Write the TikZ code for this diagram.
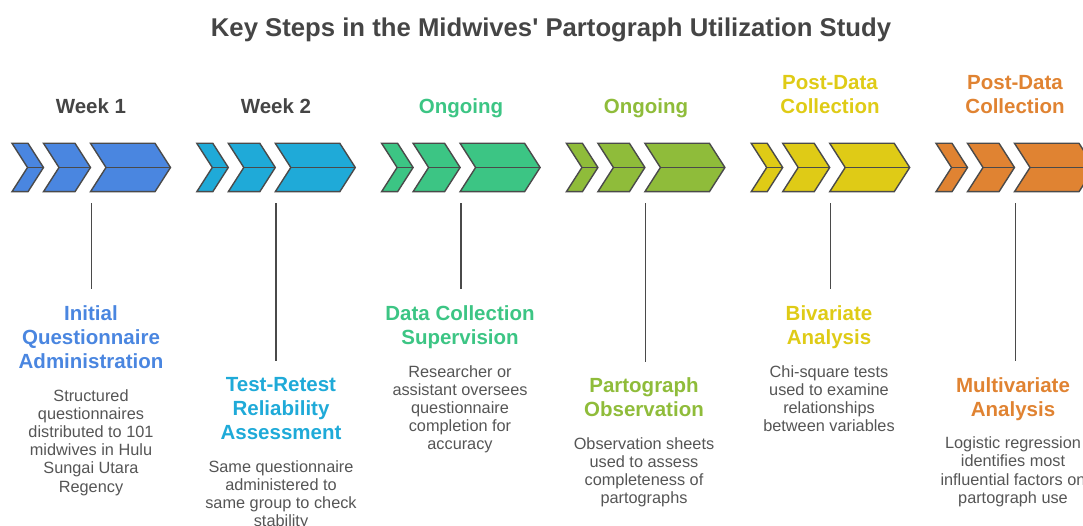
\documentclass[tikz,border=0pt]{standalone}
\usepackage{fontspec}
\setmainfont{Liberation Sans}
\usetikzlibrary{positioning}

\definecolor{ink}{HTML}{454545}
\definecolor{body}{HTML}{555555}
\definecolor{edge}{HTML}{4A4A4A}
\definecolor{stepblue}{HTML}{4A86E0}
\definecolor{stepcyan}{HTML}{1FAAD8}
\definecolor{stepgreen}{HTML}{3CC584}
\definecolor{stepolive}{HTML}{8FBC3A}
\definecolor{stepyellow}{HTML}{DFCB16}
\definecolor{steporange}{HTML}{E08332}

% one chevron: left x, width of top edge, fill
\newcommand{\stepchevron}[3]{%
  \filldraw[chev, fill=#3] (#1,143.3) -- ++(#2,0) -- ++(15.5,24.2)
    -- ++(-15.5,24.2) -- ++(-#2,0) -- ++(15.5,-24.2) -- cycle;
  \draw[chev] (#1+15.5,167.5) -- ++(#2,0);}
% three chevrons per step
\newcommand{\chevrongroup}[2]{%
  \stepchevron{#1}{16}{#2}
  \stepchevron{#1+31.5}{31.5}{#2}
  \stepchevron{#1+78.5}{64.5}{#2}}

\begin{document}
\begin{tikzpicture}[x=1pt, y=-1pt, node distance=16pt,
    chev/.style={draw=edge, line width=1.4pt, line join=miter},
    stem/.style={draw=edge, line width=1.4pt, shorten >=15.8pt},
    when/.style={font=\fontsize{20.5}{23.5}\selectfont\bfseries, align=center,
      inner sep=0pt, anchor=south, text depth=0pt},
    head/.style={font=\fontsize{20.5}{24}\selectfont\bfseries, align=center,
      inner sep=0pt, anchor=north, text depth=4.5pt},
    desc/.style={font=\fontsize{16.3}{18.2}\selectfont, text=body, align=center,
      inner sep=0pt}]
    \useasboundingbox (0,0) rectangle (1083,526);
    \clip (0,0) rectangle (1083,526);
    %
    \node [font=\fontsize{25.7}{30}\selectfont\bfseries, text=ink, anchor=base,
      inner sep=0pt] (title) at (551,36.7)
      {Key Steps in the Midwives\textquotesingle\ Partograph Utilization Study};
    %
    \node [when, text=ink] (when1) at (91,114) {Week 1};
    \node [when, text=ink] (when2) at (276,114) {Week 2};
    \node [when, text=stepgreen] (when3) at (461,114) {Ongoing};
    \node [when, text=stepolive] (when4) at (646,114) {Ongoing};
    \node [when, text=stepyellow] (when5) at (830,113.3) {Post-Data\\Collection};
    \node [when, text=steporange] (when6) at (1015,113.3) {Post-Data\\Collection};
    %
    \chevrongroup{12}{stepblue}
    \chevrongroup{196.8}{stepcyan}
    \chevrongroup{381.6}{stepgreen}
    \chevrongroup{566.4}{stepolive}
    \chevrongroup{751.2}{stepyellow}
    \chevrongroup{936}{steporange}
    %
    \node [head, text=stepblue] (head1) at (91,305.3)
      {Initial\\Questionnaire\\Administration};
    \node [head, text=stepcyan] (head2) at (281,377)
      {Test-Retest\\Reliability\\Assessment};
    \node [head, text=stepgreen] (head3) at (460,305.3)
      {Data Collection\\Supervision};
    \node [head, text=stepolive] (head4) at (644,377.3)
      {Partograph\\Observation};
    \node [head, text=stepyellow] (head5) at (829,305.3)
      {Bivariate\\Analysis};
    \node [head, text=steporange] (head6) at (1013,377)
      {Multivariate\\Analysis};
    %
    \node [desc, below=of head1] (desc1) {Structured\\questionnaires\\distributed to 101\\midwives in Hulu\\Sungai Utara\\Regency};
    \node [desc, below=of head2] (desc2) {Same questionnaire\\administered to\\same group to check\\stability};
    \node [desc, below=of head3] (desc3) {Researcher or\\assistant oversees\\questionnaire\\completion for\\accuracy};
    \node [desc, below=of head4] (desc4) {Observation sheets\\used to assess\\completeness of\\partographs};
    \node [desc, below=of head5] (desc5) {Chi-square tests\\used to examine\\relationships\\between variables};
    \node [desc, below=of head6] (desc6) {Logistic regression\\identifies most\\influential factors on\\partograph use};
    %
    \coordinate (top1) at (91.25,203.5);
    \coordinate (top2) at (276,203.5);
    \coordinate (top3) at (460.9,203.5);
    \coordinate (top4) at (645.7,203.5);
    \coordinate (top5) at (830.5,203.5);
    \coordinate (top6) at (1015.3,203.5);
    \draw [stem] (top1) -- (top1 |- head1.north);
    \draw [stem] (top2) -- (top2 |- head2.north);
    \draw [stem] (top3) -- (top3 |- head3.north);
    \draw [stem] (top4) -- (top4 |- head4.north);
    \draw [stem] (top5) -- (top5 |- head5.north);
    \draw [stem] (top6) -- (top6 |- head6.north);
\end{tikzpicture}
\end{document}
